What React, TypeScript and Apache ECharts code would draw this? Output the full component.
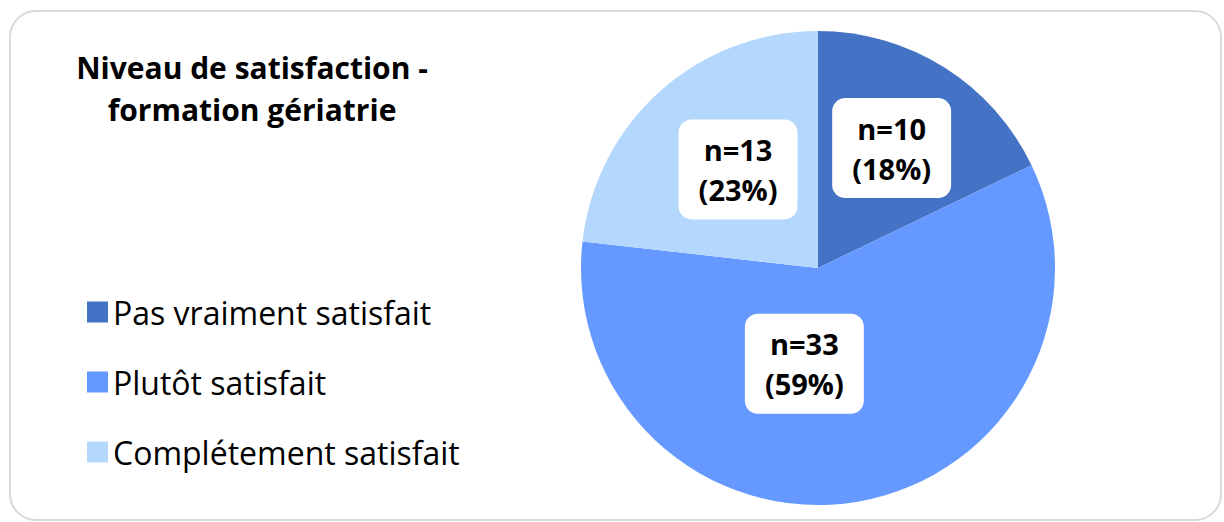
import React, { useEffect, useRef } from "react";
import * as echarts from "echarts";

const categories = ["Pas vraiment satisfait", "Plutôt satisfait", "Complétement satisfait"];
const counts = [10, 33, 13];
const percents = [18, 59, 23];
const colors = ["#4472C4", "#6699FF", "#B4D7FD"];
const labelOffsets: [number, number][] = [[9, -17], [-34, -24], [1, -8]];
const titleLines = ["Niveau de satisfaction -", "formation gériatrie"];

const FONT = "'Open Sans', 'Noto Sans', sans-serif";

export default function App() {
  const ref = useRef<HTMLDivElement>(null);
  useEffect(() => {
    document.body.style.margin = "0";
    const chart = echarts.init(ref.current!, undefined, { renderer: "svg" });
    chart.setOption({
      animation: false,
      backgroundColor: "#ffffff",
      title: {
        text: titleLines.join("\n"),
        left: 247,
        top: 41,
        textAlign: "center",
        textStyle: {
          fontFamily: FONT,
          fontWeight: "bold",
          fontSize: 30,
          lineHeight: 42,
          color: "#000",
        },
      },
      legend: {
        orient: "vertical",
        left: 82,
        top: 291,
        icon: "rect",
        itemWidth: 21,
        itemHeight: 21,
        itemGap: 38,
        data: categories,
        textStyle: {
          fontFamily: FONT,
          fontSize: 32,
          lineHeight: 30,
          color: "#000",
          padding: [0, 0, 0, 0],
        },
      },
      graphic: [
        {
          type: "rect",
          shape: { x: 10, y: 11, width: 1211, height: 509, r: 26 },
          style: { fill: "none", stroke: "#d9d9d9", lineWidth: 2 },
          z: -1,
        },
      ],
      series: [
        {
          type: "pie",
          center: [818, 268],
          radius: [0, 237],
          startAngle: 90,
          clockwise: true,
          silent: true,
          itemStyle: { borderWidth: 0 },
          labelLine: { show: false },
          label: {
            show: true,
            position: "inside",
            fontFamily: FONT,
            fontWeight: "bold",
            fontSize: 29,
            lineHeight: 40,
            color: "#000",
            backgroundColor: "#ffffff",
            borderRadius: 13,
            padding: [10, 20],
            formatter: (p: any) => `n=${counts[p.dataIndex]}\n(${percents[p.dataIndex]}%)`,
          },
          data: categories.map((name, i) => ({
            name,
            value: counts[i],
            itemStyle: { color: colors[i] },
            label: { offset: labelOffsets[i] },
          })),
        },
      ],
    });
    return () => chart.dispose();
  }, []);
  return <div ref={ref} style={{ width: 1224, height: 522 }} />;
}
